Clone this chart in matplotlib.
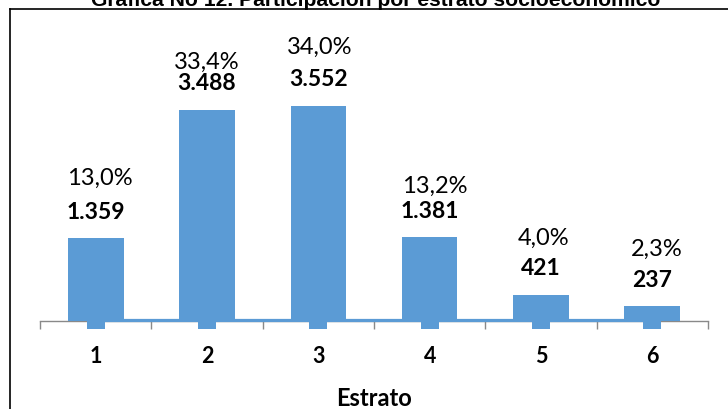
import numpy as np
import matplotlib.pyplot as plt
from matplotlib.lines import Line2D

plt.rcParams['font.family'] = ['Lato', 'DejaVu Sans']

# Hogares por estrato socioeconómico
estratos = ['1', '2', '3', '4', '5', '6']
hogares = [1359, 3488, 3552, 1381, 421, 237]
participacion = [13.0, 33.4, 34.0, 13.2, 4.0, 2.3]

# desplazamiento a mano de las etiquetas de porcentaje (en puntos)
pct_dx = [3, 0, 1, 3.5, 1.5, 3]
pct_dy = [44, 35, 43, 37.5, 41.5, 42]

azul = '#5B9BD5'
gris = '#898989'

fig = plt.figure(figsize=(7.28, 4.10), dpi=100)
ax = fig.add_axes([40 / 728, 88.5 / 410, 668 / 728, 302 / 410])

x = np.arange(len(estratos))
ax.bar(x, hogares, width=0.5, color=azul, zorder=3)

# serie de participación sobre el mismo eje (queda pegada al cero)
ax.plot(x, np.array(participacion) / 100, color=azul, lw=2.3, marker='s',
        markersize=12.5, markeredgewidth=0, clip_on=False, zorder=2.5)

for i, (v, p) in enumerate(zip(hogares, participacion)):
    ax.annotate(f'{v:,}'.replace(',', '.'), (x[i], v), xytext=(0, 19.5),
                textcoords='offset points', ha='center', va='center',
                fontsize=16.5, fontweight='bold', color='black', zorder=5)
    ax.annotate(f'{p:.1f}'.replace('.', ',') + '%', (x[i], v),
                xytext=(pct_dx[i], pct_dy[i]), textcoords='offset points',
                ha='center', va='center', fontsize=17, color='black', zorder=5)

ax.set_xlim(-0.5, len(estratos) - 0.5)
ax.set_ylim(0, 5000)

for s in ['top', 'right', 'left']:
    ax.spines[s].set_visible(False)
ax.spines['bottom'].set_color(gris)
ax.spines['bottom'].set_linewidth(1.0)
ax.spines['bottom'].set_zorder(2)

ax.set_yticks([])
ax.set_xticks(np.arange(len(estratos) + 1) - 0.5)
ax.set_xticklabels([])
ax.tick_params(axis='x', which='major', length=5.5, width=1.0, color=gris)
ax.set_xticks(x, minor=True)
ax.set_xticklabels(estratos, minor=True)
ax.tick_params(axis='x', which='minor', length=0, pad=18, labelsize=15.5)
for t in ax.get_xticklabels(minor=True):
    t.set_fontweight('bold')

ax.set_xlabel('Estrato', fontsize=17, fontweight='bold', labelpad=14)

# título cortado arriba y marco del gráfico
fig.text(376 / 728, 1 - 6 / 410, 'Gráfica No 12. Participación por estrato socioeconómico',
         ha='center', va='baseline', fontsize=15.2, fontweight='bold',
         family=['Liberation Sans', 'DejaVu Sans'])
fig.add_artist(Line2D([10 / 728, 10 / 728], [0, 1 - 9.5 / 410], transform=fig.transFigure,
                      color='black', lw=1.2))
fig.add_artist(Line2D([10 / 728, 1], [1 - 9.5 / 410, 1 - 9.5 / 410], transform=fig.transFigure,
                      color='black', lw=1.2))

fig.savefig('out.png', dpi=100)
